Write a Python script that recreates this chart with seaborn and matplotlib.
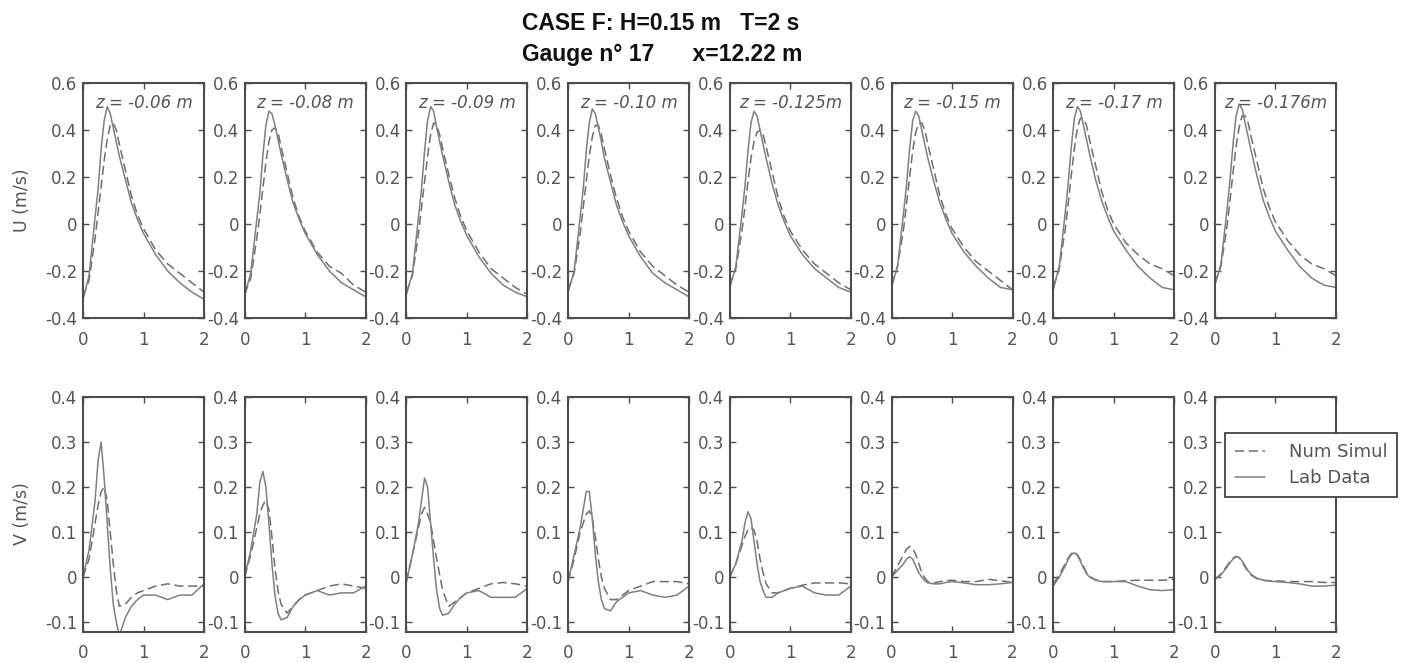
import matplotlib
matplotlib.use("Agg")
import matplotlib.pyplot as plt
import seaborn as sns
import numpy as np

# time axis (s)
t = [0, 0.1, 0.2, 0.25, 0.3, 0.35, 0.4, 0.45, 0.5, 0.55, 0.6,
     0.7, 0.8, 0.9, 1.0, 1.2, 1.4, 1.6, 1.8, 2.0]

depth_labels = ["z = -0.06 m", "z = -0.08 m", "z = -0.09 m", "z = -0.10 m",
                "z = -0.125m", "z = -0.15 m", "z = -0.17 m", "z = -0.176m"]

# horizontal velocity U (m/s), lab data (solid)
u_lab = [
    [-0.32, -0.22, 0.03, 0.15, 0.32, 0.44, 0.50, 0.47, 0.41, 0.35, 0.29, 0.19, 0.09, 0.02, -0.04, -0.13, -0.20, -0.25, -0.29, -0.32],
    [-0.30, -0.21, 0.02, 0.13, 0.29, 0.42, 0.48, 0.47, 0.42, 0.36, 0.30, 0.19, 0.09, 0.02, -0.04, -0.13, -0.20, -0.25, -0.28, -0.31],
    [-0.30, -0.21, 0.03, 0.15, 0.31, 0.44, 0.50, 0.48, 0.41, 0.35, 0.29, 0.18, 0.08, 0.01, -0.05, -0.14, -0.21, -0.26, -0.29, -0.31],
    [-0.29, -0.20, 0.03, 0.15, 0.31, 0.43, 0.49, 0.47, 0.41, 0.35, 0.28, 0.18, 0.08, 0.01, -0.05, -0.14, -0.21, -0.25, -0.28, -0.31],
    [-0.27, -0.18, 0.04, 0.16, 0.31, 0.43, 0.48, 0.46, 0.40, 0.34, 0.28, 0.17, 0.08, 0.01, -0.05, -0.13, -0.19, -0.23, -0.27, -0.29],
    [-0.27, -0.18, 0.05, 0.17, 0.32, 0.44, 0.48, 0.46, 0.40, 0.34, 0.28, 0.18, 0.09, 0.02, -0.04, -0.12, -0.18, -0.23, -0.27, -0.28],
    [-0.28, -0.18, 0.05, 0.18, 0.33, 0.45, 0.50, 0.48, 0.42, 0.36, 0.30, 0.19, 0.10, 0.03, -0.03, -0.11, -0.18, -0.23, -0.27, -0.28],
    [-0.26, -0.17, 0.06, 0.19, 0.34, 0.46, 0.51, 0.49, 0.43, 0.37, 0.31, 0.20, 0.10, 0.03, -0.03, -0.11, -0.18, -0.23, -0.26, -0.27],
]
# horizontal velocity U (m/s), numerical simulation (dashed)
u_sim = [
    [-0.31, -0.24, -0.06, 0.05, 0.16, 0.27, 0.36, 0.42, 0.43, 0.40, 0.34, 0.23, 0.12, 0.04, -0.02, -0.11, -0.17, -0.21, -0.25, -0.29],
    [-0.30, -0.23, -0.06, 0.04, 0.15, 0.26, 0.35, 0.40, 0.41, 0.39, 0.33, 0.22, 0.11, 0.03, -0.03, -0.12, -0.18, -0.21, -0.26, -0.29],
    [-0.29, -0.22, -0.04, 0.07, 0.18, 0.29, 0.38, 0.43, 0.42, 0.38, 0.32, 0.21, 0.11, 0.03, -0.03, -0.12, -0.19, -0.23, -0.27, -0.30],
    [-0.28, -0.21, -0.04, 0.07, 0.18, 0.29, 0.37, 0.42, 0.42, 0.38, 0.32, 0.21, 0.11, 0.03, -0.03, -0.12, -0.18, -0.22, -0.26, -0.29],
    [-0.26, -0.19, -0.03, 0.07, 0.18, 0.28, 0.35, 0.39, 0.40, 0.38, 0.33, 0.22, 0.11, 0.03, -0.03, -0.11, -0.17, -0.21, -0.25, -0.28],
    [-0.26, -0.18, -0.02, 0.09, 0.20, 0.31, 0.39, 0.43, 0.43, 0.40, 0.34, 0.23, 0.12, 0.04, -0.02, -0.10, -0.16, -0.20, -0.24, -0.28],
    [-0.27, -0.19, -0.02, 0.09, 0.21, 0.32, 0.41, 0.45, 0.45, 0.42, 0.36, 0.25, 0.14, 0.06, 0.00, -0.08, -0.13, -0.17, -0.19, -0.22],
    [-0.25, -0.18, -0.01, 0.10, 0.22, 0.33, 0.41, 0.46, 0.46, 0.43, 0.37, 0.26, 0.15, 0.07, 0.01, -0.07, -0.13, -0.17, -0.19, -0.22],
]
# vertical velocity V (m/s), lab data (solid)
v_lab = [
    [0.0, 0.06, 0.17, 0.26, 0.30, 0.22, 0.12, 0.02, -0.06, -0.10, -0.13, -0.09, -0.065, -0.05, -0.04, -0.04, -0.05, -0.04, -0.04, -0.015],
    [0.0, 0.06, 0.14, 0.21, 0.235, 0.20, 0.12, 0.03, -0.04, -0.08, -0.095, -0.09, -0.065, -0.05, -0.04, -0.03, -0.04, -0.035, -0.035, -0.02],
    [-0.01, 0.05, 0.12, 0.17, 0.22, 0.20, 0.12, 0.04, -0.03, -0.07, -0.085, -0.08, -0.06, -0.045, -0.035, -0.03, -0.045, -0.045, -0.045, -0.025],
    [-0.01, 0.05, 0.11, 0.15, 0.19, 0.19, 0.13, 0.05, -0.01, -0.05, -0.07, -0.075, -0.055, -0.045, -0.035, -0.03, -0.04, -0.045, -0.04, -0.02],
    [0.0, 0.03, 0.08, 0.12, 0.145, 0.13, 0.08, 0.03, -0.01, -0.03, -0.045, -0.045, -0.035, -0.03, -0.025, -0.02, -0.035, -0.04, -0.04, -0.02],
    [0.0, 0.015, 0.03, 0.04, 0.045, 0.04, 0.025, 0.01, 0.0, -0.008, -0.013, -0.015, -0.015, -0.012, -0.01, -0.013, -0.017, -0.017, -0.015, -0.012],
    [-0.02, 0.0, 0.025, 0.04, 0.05, 0.054, 0.048, 0.035, 0.02, 0.008, 0.0, -0.007, -0.01, -0.01, -0.01, -0.01, -0.02, -0.028, -0.03, -0.028],
    [-0.005, 0.005, 0.022, 0.032, 0.04, 0.045, 0.044, 0.036, 0.025, 0.014, 0.006, -0.003, -0.007, -0.009, -0.01, -0.012, -0.015, -0.02, -0.02, -0.018],
]
# vertical velocity V (m/s), numerical simulation (dashed)
v_sim = [
    [0.0, 0.04, 0.12, 0.16, 0.19, 0.20, 0.17, 0.10, 0.03, -0.03, -0.065, -0.06, -0.045, -0.035, -0.03, -0.02, -0.015, -0.02, -0.02, -0.02],
    [0.0, 0.05, 0.11, 0.14, 0.16, 0.17, 0.15, 0.09, 0.02, -0.03, -0.06, -0.08, -0.065, -0.05, -0.04, -0.03, -0.02, -0.015, -0.02, -0.025],
    [-0.01, 0.05, 0.11, 0.14, 0.155, 0.14, 0.12, 0.08, 0.04, 0.005, -0.03, -0.065, -0.055, -0.045, -0.035, -0.025, -0.015, -0.012, -0.015, -0.02],
    [-0.01, 0.04, 0.10, 0.12, 0.14, 0.147, 0.13, 0.09, 0.04, 0.0, -0.025, -0.05, -0.05, -0.04, -0.03, -0.02, -0.01, -0.01, -0.01, -0.015],
    [0.0, 0.03, 0.07, 0.09, 0.105, 0.11, 0.105, 0.08, 0.04, 0.01, -0.015, -0.035, -0.035, -0.03, -0.025, -0.018, -0.013, -0.013, -0.013, -0.015],
    [0.0, 0.025, 0.05, 0.062, 0.068, 0.065, 0.05, 0.03, 0.01, -0.002, -0.01, -0.013, -0.01, -0.008, -0.007, -0.01, -0.01, -0.005, -0.008, -0.012],
    [-0.015, 0.005, 0.03, 0.043, 0.052, 0.056, 0.05, 0.038, 0.024, 0.01, 0.002, -0.006, -0.01, -0.01, -0.01, -0.008, -0.007, -0.007, -0.007, -0.005],
    [-0.005, 0.007, 0.025, 0.035, 0.042, 0.046, 0.043, 0.034, 0.022, 0.012, 0.004, -0.004, -0.007, -0.008, -0.008, -0.01, -0.01, -0.01, -0.012, -0.012],
]

x_ticks = [0, 1, 2]
x_tick_labels = ["0", "1", "2"]
u_ticks = [-0.4, -0.2, 0, 0.2, 0.4, 0.6]
u_tick_labels = ["-0.4", "-0.2", "0", "0.2", "0.4", "0.6"]
v_ticks = [-0.1, 0, 0.1, 0.2, 0.3, 0.4]
v_tick_labels = ["-0.1", "0", "0.1", "0.2", "0.3", "0.4"]

sns.set_theme(style="ticks")
plt.rcParams['font.family'] = ['DejaVu Sans']

W, H = 1410, 663
fig = plt.figure(figsize=(W / 100, H / 100), dpi=100)

line_col = '#808080'
dash_col = '#6e6e6e'
spine_col = '#4d4d4d'
txt_col = '#555555'


def style_axes(ax, ticks, labels, ylim):
    ax.set_xlim(0, 2)
    ax.set_ylim(*ylim)
    ax.set_xticks(x_ticks, labels=x_tick_labels)
    ax.set_yticks(ticks, labels=labels)
    ax.tick_params(direction='in', top=True, right=True, length=4, width=1,
                   color=spine_col, labelcolor=txt_col, labelsize=12)
    ax.tick_params(axis='x', pad=9)
    ax.tick_params(axis='y', pad=4)
    for s in ax.spines.values():
        s.set_color(spine_col)
        s.set_linewidth(1.5)
    ax.set_xlabel("")
    ax.set_ylabel("")


for i in range(8):
    left = (83 + i * 161.7) / W
    ax_u = fig.add_axes([left, 1 - 318 / H, 121 / W, 235 / H])
    ax_v = fig.add_axes([left, 1 - 632 / H, 121 / W, 235 / H])

    sns.lineplot(x=t, y=u_sim[i], ax=ax_u, color=dash_col, linewidth=1.1,
                 linestyle=(0, (6, 3)))
    sns.lineplot(x=t, y=u_lab[i], ax=ax_u, color=line_col, linewidth=1.1)
    style_axes(ax_u, u_ticks, u_tick_labels, (-0.4, 0.6))
    ax_u.text(1.0, 0.515, depth_labels[i], ha='center', va='center',
              fontsize=12, style='italic', color=txt_col)

    sns.lineplot(x=t, y=v_sim[i], ax=ax_v, color=dash_col, linewidth=1.1,
                 linestyle=(0, (6, 3)), label="Num Simul")
    sns.lineplot(x=t, y=v_lab[i], ax=ax_v, color=line_col, linewidth=1.1,
                 label="Lab Data")
    style_axes(ax_v, v_ticks, v_tick_labels, (-0.122, 0.4))
    if i == 7:
        leg = ax_v.legend(loc='upper left', bbox_to_anchor=(0.08, 0.845),
                          borderaxespad=0, fontsize=13, frameon=True,
                          fancybox=False, framealpha=1, handlelength=1.7,
                          handletextpad=1.3, labelspacing=0.45, borderpad=0.55)
        leg.get_frame().set_edgecolor('#333333')
        leg.get_frame().set_linewidth(1.2)
        for txt in leg.get_texts():
            txt.set_color(txt_col)
    else:
        ax_v.get_legend().remove()

fig.text(22 / W, 1 - 200 / H, "U (m/s)", rotation=90, ha='center',
         va='center', fontsize=12.5, color=txt_col)
fig.text(22 / W, 1 - 514 / H, "V (m/s)", rotation=90, ha='center',
         va='center', fontsize=12.5, color=txt_col)

title_font = ['Liberation Sans Narrow', 'Liberation Sans']
fig.text(522 / W, 1 - 23 / H, "CASE F: H=0.15 m   T=2 s", ha='left',
         va='center', fontsize=16.5, fontweight='bold', family=title_font,
         color='#111111')
fig.text(522 / W, 1 - 55 / H, "Gauge n° 17      x=12.22 m", ha='left',
         va='center', fontsize=16.5, fontweight='bold', family=title_font,
         color='#111111')

fig.savefig("out.png", dpi=100)
